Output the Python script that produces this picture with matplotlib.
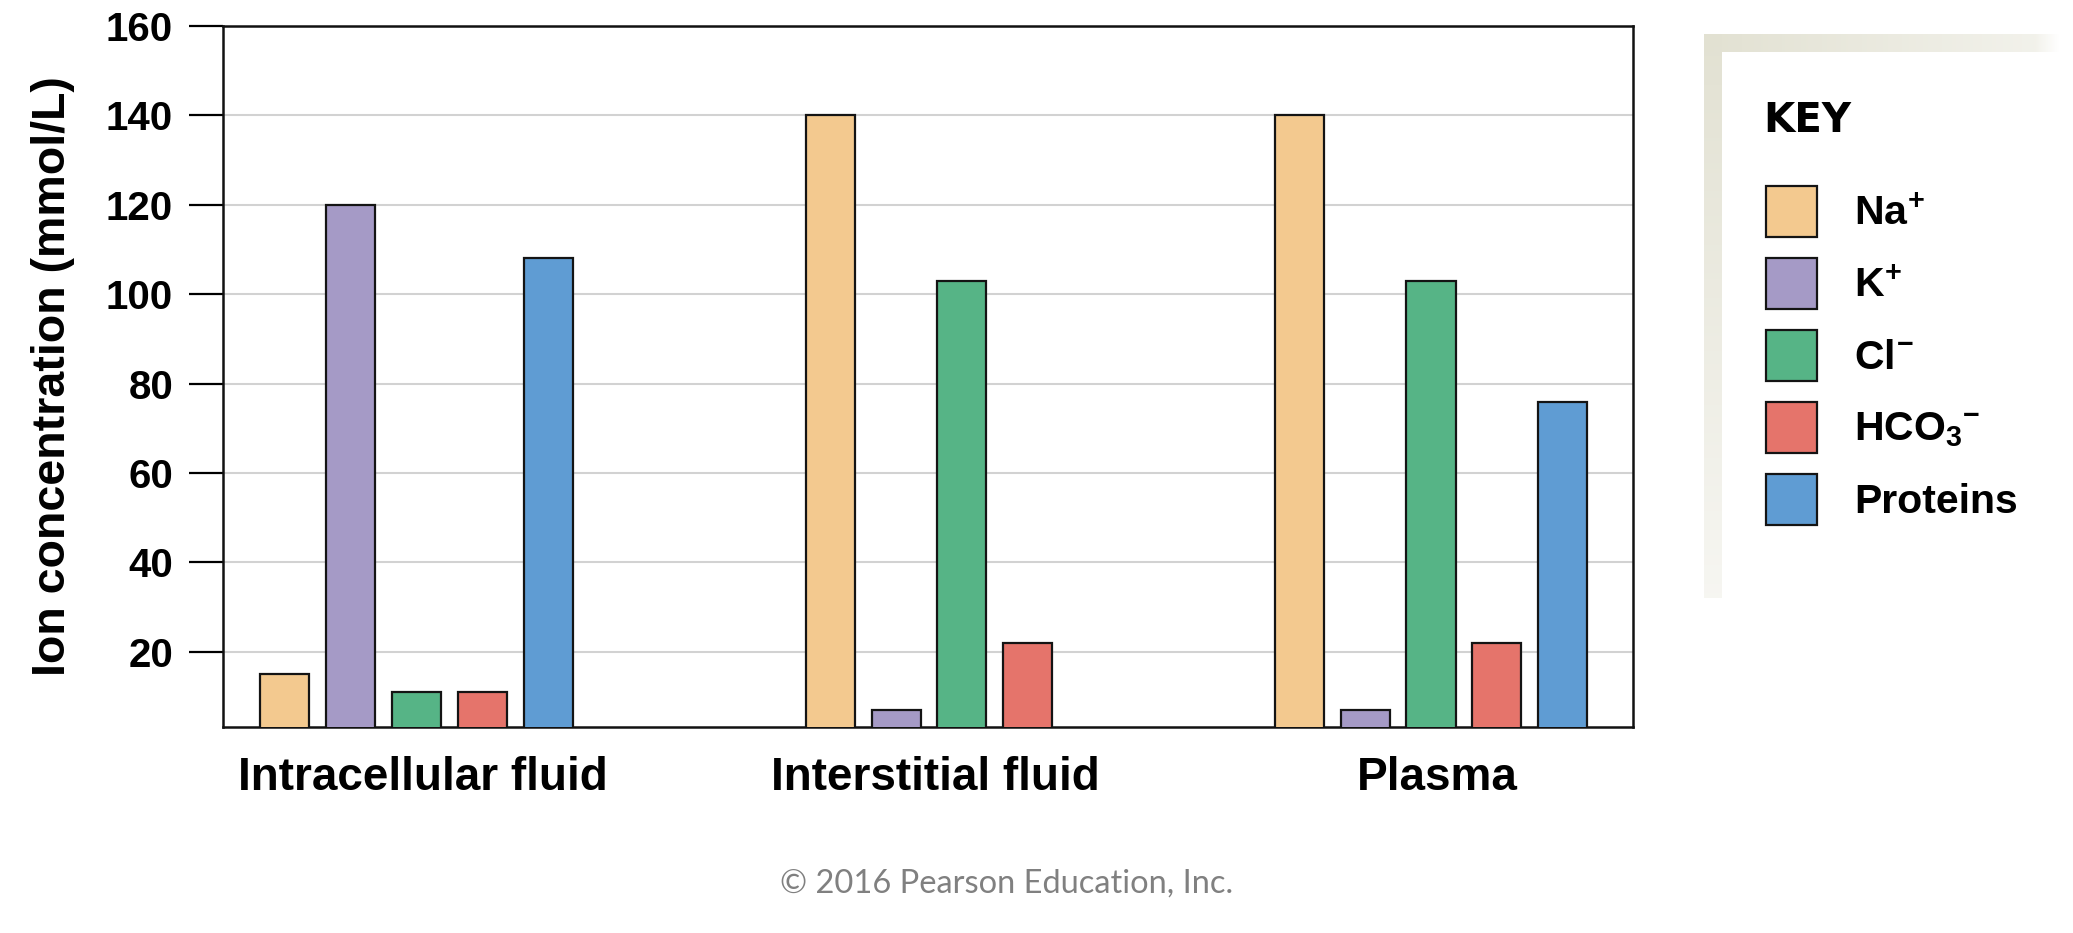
import numpy as np
import matplotlib
matplotlib.use("Agg")
import matplotlib.pyplot as plt
from matplotlib.patches import Patch

plt.rcParams.update({
    "font.family": ["Liberation Sans", "DejaVu Sans"],
    "font.weight": "bold",
    "mathtext.fontset": "custom",
    "mathtext.rm": "Liberation Sans:bold",
    "mathtext.bf": "Liberation Sans:bold",
    "mathtext.it": "Liberation Sans:bold",
})

# data (mmol/L)
FLUIDS = ["Intracellular fluid", "Interstitial fluid", "Plasma"]
IONS = [r"$\mathbf{Na^{\!+}}$", r"$\mathbf{K^{\!+}}$", r"$\mathbf{Cl^{\!-}}$",
        r"$\mathbf{HCO_3{}^{-}}$", "Proteins"]
NA = [15, 140, 140]
K = [120, 7, 7]
CL = [11, 103, 103]
HCO3 = [11, 22, 22]
PROTEINS = [108, 0, 76]
YTICKS = [20, 40, 60, 80, 100, 120, 140, 160]

COLORS = ["#F3C98F", "#A59AC6", "#56B486", "#E5746B", "#5F9CD3"]
EDGE = "#141414"

W, H = 2073, 933
fig = plt.figure(figsize=(W / 100, H / 100), dpi=100)
ax = fig.add_axes([223 / W, 1 - 727 / H, (1633 - 223) / W, (727 - 26) / H])

group_x = np.array([0.94, 9.23, 16.36])
bw = 0.745
series = [NA, K, CL, HCO3, PROTEINS]
for i, (vals, col) in enumerate(zip(series, COLORS)):
    ax.bar(group_x + i, vals, width=bw, color=col,
           edgecolor=EDGE, linewidth=1.6, zorder=3)

nbars = np.array([sum(1 for s in series if s[g] > 0) for g in range(len(FLUIDS))])
ax.set_xticks(group_x + (nbars - 1) / 2 + 0.1)
ax.set_xticklabels(FLUIDS, fontsize=33, fontweight="bold")
ax.tick_params(axis="x", length=0, pad=21)
ax.set_xlim(0, 21.43)

ax.set_ylim(3.2, 160)
ax.set_yticks(YTICKS)
ax.set_yticklabels([str(t) for t in YTICKS], fontsize=29, fontweight="bold")
ax.tick_params(axis="y", length=24.5, width=1.6, pad=11.5, direction="out")
ax.yaxis.grid(True, color="#D2D2D2", linewidth=1.5, zorder=0)
ax.set_axisbelow(True)
for s in ax.spines.values():
    s.set_linewidth(1.8)
    s.set_color("#111111")
ax.set_ylabel("Ion concentration (mmol/L)", fontsize=33.5, fontweight="bold")
ax.yaxis.set_label_coords(-0.105, 0.5)

# key panel: beige border on the top and left that fades out
bx0, by0, bx1, by1 = 1704, 34, 2060, 598
bax = fig.add_axes([bx0 / W, 1 - by1 / H, (bx1 - bx0) / W, (by1 - by0) / H])
bax.set_axis_off()
hh, ww = by1 - by0, bx1 - bx0
img = np.ones((hh, ww, 4))
img[..., :3] = np.array([226, 225, 210]) / 255
img[..., 3] = 0
top_fade = np.clip(1 - np.arange(ww) / 600, 0.4, 1)
img[:18, :, 3] = top_fade[None, :]
left_fade = np.clip(1 - np.arange(hh) / 800, 0.3, 1)
img[:, :18, 3] = np.maximum(img[:, :18, 3], left_fade[:, None])
img[:, ww - 25:, 3] *= np.linspace(1, 0, 25)[None, :]
bax.imshow(img, aspect="auto", interpolation="bilinear")

fig.text(1763 / W, 1 - 132 / H, "KEY", fontsize=29, fontweight="bold",
         family=["DejaVu Sans"], ha="left", va="baseline")
handles = [Patch(facecolor=c, edgecolor=EDGE, linewidth=1.6) for c in COLORS]
fig.legend(handles, IONS, loc="upper left",
           bbox_to_anchor=(1766 / W, 1 - 186 / H), frameon=False,
           prop={"weight": "bold", "size": 29.5},
           handlelength=1.25, handleheight=1.54, labelspacing=0.51,
           handletextpad=0.9, borderpad=0, borderaxespad=0)

fig.text(1007 / W, 1 - 884 / H, "\u00a9 2016 Pearson Education, Inc.",
         fontsize=23.5, family=["Lato", "DejaVu Sans"], fontweight="normal",
         color="#808080", ha="center", va="center")

fig.savefig("out.png", dpi=100, facecolor="white")
